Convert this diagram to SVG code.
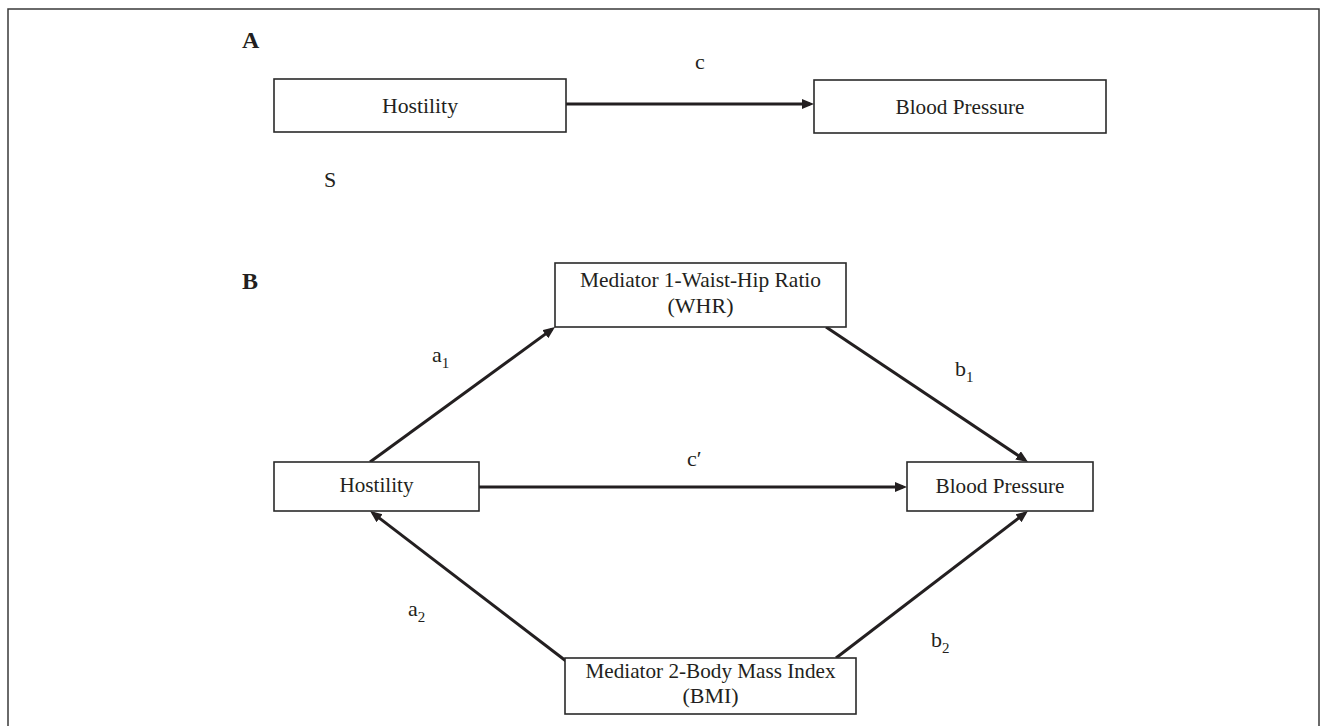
<svg xmlns="http://www.w3.org/2000/svg" width="1328" height="726" viewBox="0 0 1328 726">
<style>
.frame{fill:none;stroke:#3a3a3a;stroke-width:1.5}
.box{fill:#ffffff;stroke:#2a2a2a;stroke-width:1.6}
.t{font-family:"Liberation Serif","Times New Roman",serif;font-size:22px;fill:#231f20;text-anchor:middle}
.lbl{font-family:"Liberation Serif","Times New Roman",serif;font-size:22px;fill:#231f20}
.panel{font-family:"Liberation Serif","Times New Roman",serif;font-size:24px;font-weight:bold;fill:#231f20}
.edge{fill:none;stroke:#231f20;stroke-width:3}
</style>
<defs>
<marker id="ah" markerUnits="userSpaceOnUse" markerWidth="14" markerHeight="12" refX="8" refY="5" orient="auto">
<path d="M0,0 L12,5 L0,10 z" fill="#231f20"/>
</marker>
</defs>
<rect width="1328" height="726" fill="#ffffff"/>
<path class="frame" d="M8,726 V9 H1319 V726"/>
<text class="panel" x="242" y="48">A</text>
<text class="panel" x="242" y="289">B</text>
<g id="connectors">
<line class="edge" x1="566" y1="104" x2="810" y2="104" marker-end="url(#ah)"/>
<line class="edge" x1="479" y1="487" x2="903" y2="487" marker-end="url(#ah)"/>
<line class="edge" x1="370" y1="462" x2="551.8" y2="329.4" marker-end="url(#ah)"/>
<line class="edge" x1="826" y1="327" x2="1024.7" y2="459.8" marker-end="url(#ah)"/>
<line class="edge" x1="566" y1="661" x2="373.2" y2="513.4" marker-end="url(#ah)"/>
<line class="edge" x1="836" y1="658" x2="1024.8" y2="513.4" marker-end="url(#ah)"/>
<text class="lbl" x="700" y="69" text-anchor="middle">c</text>
<text class="lbl" x="687" y="466">c′</text>
<text class="lbl" x="432" y="362">a<tspan dy="6" font-size="15">1</tspan></text>
<text class="lbl" x="955" y="376">b<tspan dy="6" font-size="15">1</tspan></text>
<text class="lbl" x="408" y="616">a<tspan dy="6" font-size="15">2</tspan></text>
<text class="lbl" x="931" y="647">b<tspan dy="6" font-size="15">2</tspan></text>
</g>
<text class="lbl" x="324" y="187">S</text>
<g id="hostilityA">
<rect class="box" x="274" y="79" width="292" height="53"/>
<text class="t" x="420" y="113" textLength="76" lengthAdjust="spacingAndGlyphs">Hostility</text>
</g>
<g id="bloodPressureA">
<rect class="box" x="814" y="80" width="292" height="53"/>
<text class="t" x="960" y="114" textLength="129" lengthAdjust="spacingAndGlyphs">Blood Pressure</text>
</g>
<g id="mediator1">
<rect class="box" x="555" y="263" width="291" height="64"/>
<text class="t" x="700.5" y="287" textLength="241" lengthAdjust="spacingAndGlyphs">Mediator 1-Waist-Hip Ratio</text>
<text class="t" x="700.5" y="313">(WHR)</text>
</g>
<g id="hostilityB">
<rect class="box" x="274" y="462" width="205" height="49"/>
<text class="t" x="376.5" y="492" textLength="74" lengthAdjust="spacingAndGlyphs">Hostility</text>
</g>
<g id="bloodPressureB">
<rect class="box" x="907" y="462" width="186" height="49"/>
<text class="t" x="1000" y="493" textLength="129" lengthAdjust="spacingAndGlyphs">Blood Pressure</text>
</g>
<g id="mediator2">
<rect class="box" x="565" y="658" width="291" height="56"/>
<text class="t" x="710.5" y="678" textLength="250" lengthAdjust="spacingAndGlyphs">Mediator 2-Body Mass Index</text>
<text class="t" x="710.5" y="703">(BMI)</text>
</g>
</svg>
